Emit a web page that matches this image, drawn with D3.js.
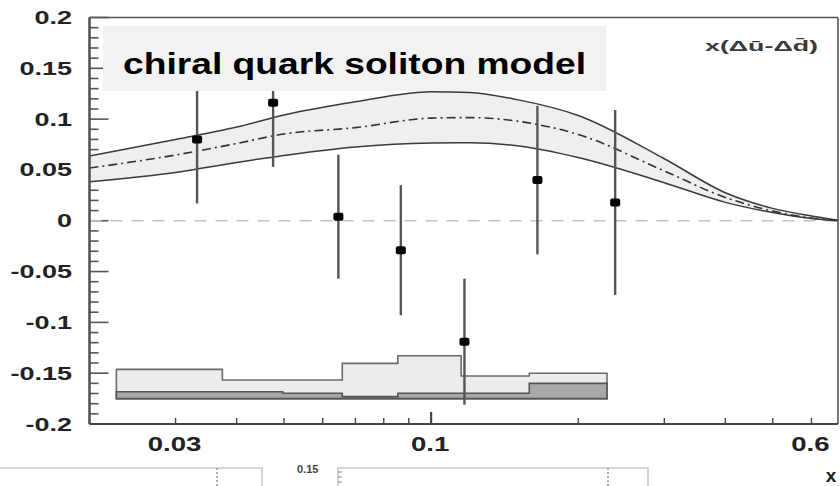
<!DOCTYPE html>
<html>
<head>
<meta charset="utf-8">
<script src="https://cdn.jsdelivr.net/npm/d3@7"></script>
<style>
  html, body { margin: 0; padding: 0; background: #fff; }
  svg { display: block; }
  text { font-family: "Liberation Sans", Arial, Helvetica, sans-serif; }
</style>
</head>
<body>
<svg id="chart" width="840" height="486"></svg>
<script>
// Model band: x grid, upper / central / lower curves of x(Δū − Δd̄)
const modelX     = [0.02, 0.03, 0.04, 0.05, 0.07, 0.1, 0.12, 0.15, 0.2, 0.3, 0.4, 0.5, 0.6, 0.68];
const modelUpper = [0.0637, 0.080, 0.0922, 0.104, 0.117, 0.127, 0.1262, 0.1192, 0.1036, 0.061, 0.0276, 0.0122, 0.0047, 0.0005];
const modelMid   = [0.0519, 0.0647, 0.076, 0.0854, 0.0916, 0.101, 0.1015, 0.098, 0.0849, 0.049, 0.0229, 0.0096, 0.0027, 0.0003];
const modelLower = [0.0384, 0.0475, 0.0573, 0.0642, 0.0726, 0.0765, 0.0768, 0.0738, 0.0622, 0.0374, 0.0181, 0.0081, 0.0022, 0.0];

// Measured points with statistical errors
const dataX   = [0.0332, 0.0475, 0.0646, 0.0867, 0.117, 0.165, 0.238];
const dataY   = [0.080, 0.116, 0.004, -0.029, -0.119, 0.040, 0.018];
const dataErr = [0.063, 0.063, 0.061, 0.064, 0.062, 0.073, 0.091];

// Systematic uncertainty histograms (bin edges, total top, partial top, baseline)
const sysEdges = [0.0227, 0.0374, 0.0497, 0.0658, 0.0855, 0.1152, 0.1588, 0.229];
const sysTotal = [-0.1462, -0.1567, -0.1567, -0.1403, -0.1328, -0.1528, -0.1501];
const sysPart  = [-0.1682, -0.1682, -0.1698, -0.1731, -0.1698, -0.1698, -0.160];
const sysBase  = -0.175;

// Axis ticks
const yMajor = [-0.2, -0.15, -0.1, -0.05, 0, 0.05, 0.1, 0.15, 0.2];
const yLabels = ["-0.2", "-0.15", "-0.1", "-0.05", "0", "0.05", "0.1", "0.15", "0.2"];
const xTicks = [0.02, 0.03, 0.04, 0.05, 0.06, 0.07, 0.08, 0.09, 0.1, 0.2, 0.3, 0.4, 0.5, 0.6];
const xLabelVals = [0.03, 0.1, 0.6];
const xLabels = ["0.03", "0.1", "0.6"];

const svg = d3.select("#chart");
const L = 89.5, R = 838, T = 17.5, B = 424;
const x = d3.scaleLog().domain([0.02, 0.68]).range([L, R]);
const y = d3.scaleLinear().domain([-0.2, 0.2]).range([B, T]);

// left axis ticks (inward)
const yMinor = d3.range(-0.2, 0.2001, 0.01).map(v => +v.toFixed(3));
svg.append("g").selectAll("line").data(yMinor).join("line")
  .attr("x1", L).attr("x2", d => L + (yMajor.some(m => Math.abs(m - d) < 1e-6) ? 19 : 9))
  .attr("y1", d => y(d)).attr("y2", d => y(d))
  .attr("stroke", "#555").attr("stroke-width", 1.6);

// bottom ticks (upward)
svg.append("g").selectAll("line").data(xTicks).join("line")
  .attr("x1", d => x(d)).attr("x2", d => x(d))
  .attr("y1", B).attr("y2", d => B - (d === 0.1 ? 12 : 6))
  .attr("stroke", "#444").attr("stroke-width", d => d === 0.1 ? 2.2 : 1.4);

// zero line
svg.append("line")
  .attr("x1", L).attr("x2", R).attr("y1", y(0)).attr("y2", y(0))
  .attr("stroke", "#c4c4c4").attr("stroke-width", 1.6).attr("stroke-dasharray", "12,9");

// model band
const band = modelX.map((v, i) => ({ x: v, lo: modelLower[i], hi: modelUpper[i], mid: modelMid[i] }));
svg.append("path").datum(band)
  .attr("d", d3.area().x(d => x(d.x)).y0(d => y(d.lo)).y1(d => y(d.hi)).curve(d3.curveMonotoneX))
  .attr("fill", "#efefef");
const lineOf = key => d3.line().x(d => x(d.x)).y(d => y(d[key])).curve(d3.curveMonotoneX);
svg.append("path").datum(band).attr("d", lineOf("hi"))
  .attr("fill", "none").attr("stroke", "#3a3a3a").attr("stroke-width", 1.5);
svg.append("path").datum(band).attr("d", lineOf("lo"))
  .attr("fill", "none").attr("stroke", "#3a3a3a").attr("stroke-width", 1.5);
svg.append("path").datum(band).attr("d", lineOf("mid"))
  .attr("fill", "none").attr("stroke", "#333").attr("stroke-width", 1.6)
  .attr("stroke-dasharray", "9,4,2,4");

// systematic histograms
function stepData(tops) {
  const pts = tops.map((v, i) => ({ x: sysEdges[i], v }));
  pts.push({ x: sysEdges[sysEdges.length - 1], v: tops[tops.length - 1] });
  return pts;
}
const stepArea = d3.area().x(d => x(d.x)).y0(y(sysBase)).y1(d => y(d.v)).curve(d3.curveStepAfter);
svg.append("path").datum(stepData(sysTotal)).attr("d", stepArea)
  .attr("fill", "#ececec").attr("stroke", "#6a6a6a").attr("stroke-width", 1.6);
svg.append("path").datum(stepData(sysPart)).attr("d", stepArea)
  .attr("fill", "#a8a8a8").attr("stroke", "#555").attr("stroke-width", 1.6);

// data points with error bars
const pts = dataX.map((v, i) => ({ x: v, y: dataY[i], e: dataErr[i] }));
const g = svg.append("g");
g.selectAll("line").data(pts).join("line")
  .attr("x1", d => x(d.x)).attr("x2", d => x(d.x))
  .attr("y1", d => y(d.y - d.e)).attr("y2", d => y(d.y + d.e))
  .attr("stroke", "#555").attr("stroke-width", 2.4);
g.selectAll("rect").data(pts).join("rect")
  .attr("x", d => x(d.x) - 5).attr("y", d => y(d.y) - 4)
  .attr("width", 10).attr("height", 8).attr("rx", 2)
  .attr("fill", "#000");

// label box (sits over the plot contents)
svg.append("rect").attr("x", 103).attr("y", 26).attr("width", 503).attr("height", 65)
  .attr("fill", "#f2f2f2");
svg.append("text").attr("x", 123).attr("y", 73.5)
  .attr("font-size", 30).attr("font-weight", "bold").attr("fill", "#000")
  .attr("textLength", 463).attr("lengthAdjust", "spacingAndGlyphs")
  .text("chiral quark soliton model");

// frame
svg.append("line").attr("x1", L).attr("x2", L).attr("y1", T).attr("y2", B)
  .attr("stroke", "#555").attr("stroke-width", 2.6);
svg.append("line").attr("x1", L).attr("x2", R).attr("y1", B).attr("y2", B)
  .attr("stroke", "#444").attr("stroke-width", 1.8);
svg.append("line").attr("x1", L).attr("x2", R).attr("y1", T).attr("y2", T)
  .attr("stroke", "#555").attr("stroke-width", 1.6);
svg.append("line").attr("x1", R).attr("x2", R).attr("y1", T).attr("y2", B)
  .attr("stroke", "#555").attr("stroke-width", 1.6);

// y tick labels
svg.append("g").selectAll("text").data(yMajor).join("text")
  .attr("transform", d => `translate(72,${y(d) + 6.5}) scale(1.5,1)`)
  .attr("text-anchor", "end").attr("font-size", 18).attr("font-weight", "bold")
  .attr("fill", "#222")
  .text((d, i) => yLabels[i]);

// x tick labels
svg.append("g").selectAll("text").data(xLabelVals).join("text")
  .attr("transform", d => `translate(${x(d) - 1},450.5) scale(1.38,1)`)
  .attr("text-anchor", "middle").attr("font-size", 20).attr("font-weight", "bold")
  .attr("fill", "#222")
  .text((d, i) => xLabels[i]);

// quantity label
svg.append("text").attr("x", 705).attr("y", 51)
  .attr("font-size", 15).attr("font-weight", "bold").attr("fill", "#3a3a3a")
  .attr("textLength", 113).attr("lengthAdjust", "spacingAndGlyphs")
  .attr("font-family", "DejaVu Sans, sans-serif")
  .text("x(Δū-Δd̄)");

// x axis title
svg.append("text").attr("x", 831).attr("y", 482)
  .attr("text-anchor", "middle").attr("font-size", 19).attr("font-weight", "bold")
  .attr("fill", "#222").text("x");

// neighbouring panel frames below
const frames = svg.append("g").attr("fill", "none").attr("stroke", "#c8c8c8").attr("stroke-width", 1.6);
frames.append("path").attr("d", "M0,468 H262 V486");
frames.append("path").attr("d", "M338,486 V468 H648 V486");
frames.append("line").attr("x1", 217).attr("x2", 217).attr("y1", 468).attr("y2", 486)
  .attr("stroke", "#999").attr("stroke-dasharray", "2,2");
frames.append("line").attr("x1", 608).attr("x2", 608).attr("y1", 468).attr("y2", 486)
  .attr("stroke", "#999").attr("stroke-dasharray", "2,2");
frames.append("path").attr("d", "M338,472 h4 M338,477 h4 M338,482 h4").attr("stroke", "#888").attr("stroke-width", 1);
svg.append("text").attr("x", 297).attr("y", 473)
  .attr("font-family", "Liberation Serif, serif").attr("font-size", 11).attr("font-weight", "bold")
  .attr("fill", "#444").text("0.15");
</script>
</body>
</html>
